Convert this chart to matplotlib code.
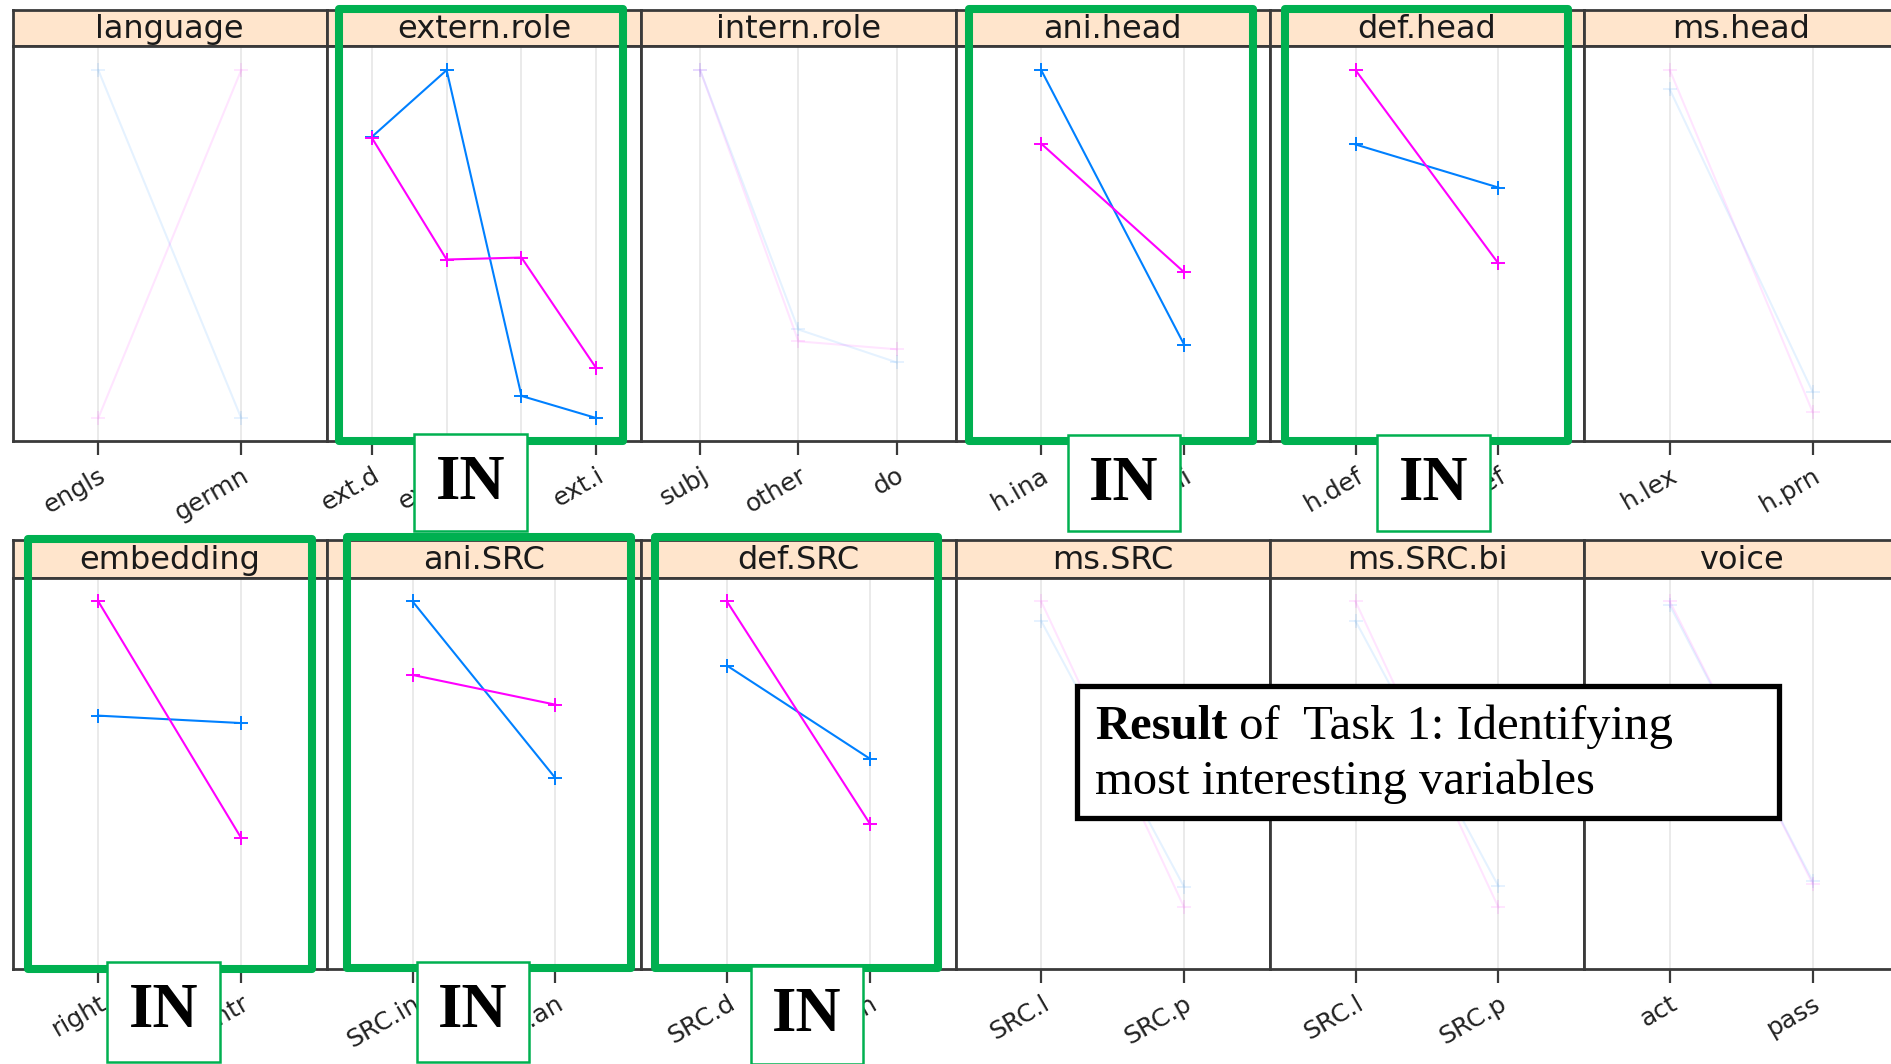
import matplotlib.pyplot as plt
from matplotlib.patches import Rectangle

W, H = 1891, 1064

# panel data (values = relative position in panel, 0 = bottom, 1 = top)
panel_names = ["language", "extern.role", "intern.role", "ani.head", "def.head", "ms.head",
               "embedding", "ani.SRC", "def.SRC", "ms.SRC", "ms.SRC.bi", "voice"]
panel_levels = [["engls", "germn"], ["ext.d", "ext.s", "ext.o", "ext.i"], ["subj", "other", "do"],
                ["h.ina", "h.ani"], ["h.def", "h.indef"], ["h.lex", "h.prn"],
                ["right", "centr"], ["SRC.in", "SRC.an"], ["SRC.d", "SRC.in"],
                ["SRC.l", "SRC.p"], ["SRC.l", "SRC.p"], ["act", "pass"]]
blue_vals = [[0.938, 0.058], [0.769, 0.938, 0.114, 0.058], [0.938, 0.282, 0.199],
             [0.938, 0.244], [0.750, 0.641], [0.889, 0.124],
             [0.648, 0.629], [0.940, 0.488], [0.776, 0.538],
             [0.890, 0.210], [0.890, 0.212], [0.930, 0.225]]
pink_vals = [[0.058, 0.938], [0.767, 0.459, 0.464, 0.184], [0.938, 0.252, 0.232],
             [0.752, 0.427], [0.938, 0.449], [0.938, 0.073],
             [0.940, 0.335], [0.752, 0.676], [0.940, 0.372],
             [0.940, 0.158], [0.940, 0.158], [0.940, 0.218]]
interesting = [False, True, False, True, True, False,
               True, True, True, False, False, False]

BLUE = "#0080ff"
PINK = "#ff00ff"
GREEN = "#00b050"
EDGE = "#3a3a3a"

fig = plt.figure(figsize=(W / 100, H / 100), dpi=100)
fig.patch.set_facecolor("white")


def px_axes(x0, y0, x1, y1):
    return fig.add_axes([x0 / W, 1 - y1 / H, (x1 - x0) / W, (y1 - y0) / H])


col_left = 12.6
col_w = 314.3
strip_top = [9.5, 540]
strip_bot = [45.6, 578]
panel_bot = [441, 969]

for i, name in enumerate(panel_names):
    row, col = divmod(i, 6)
    x0 = col_left + col * col_w
    x1 = x0 + col_w
    levels = panel_levels[i]
    n = len(levels)
    xs = list(range(1, n + 1))

    # strip
    sax = px_axes(x0, strip_top[row], x1, strip_bot[row])
    sax.set_facecolor("#ffe5cc")
    sax.set_xticks([])
    sax.set_yticks([])
    for sp in sax.spines.values():
        sp.set_color(EDGE)
        sp.set_linewidth(2)
    sax.text(0.5, 0.45, name, ha="center", va="center", fontsize=23,
             color="#1a1a1a", transform=sax.transAxes)

    # panel
    ax = px_axes(x0, strip_bot[row], x1, panel_bot[row])
    ax.set_xlim(0.4, n + 0.6)
    ax.set_ylim(0, 1)
    for x in xs:
        ax.axvline(x, color="#e8e8e8", lw=1.3, zorder=0)
    alpha = 1.0 if interesting[i] else 0.1
    ax.plot(xs, blue_vals[i], color=BLUE, lw=1.5, marker="+", ms=10, mew=1.4,
            alpha=alpha)
    ax.plot(xs, pink_vals[i], color=PINK, lw=1.5, marker="+", ms=10, mew=1.4,
            alpha=alpha)
    ax.set_yticks([])
    ax.set_xticks(xs)
    ax.set_xticklabels(levels, rotation=30, ha="right", va="top",
                       rotation_mode="anchor", fontsize=18, color="#222222")
    ax.tick_params(axis="x", direction="out", length=10, width=1.6, color=EDGE, pad=6)
    for sp in ax.spines.values():
        sp.set_color(EDGE)
        sp.set_linewidth(2)

# overlay in pixel coordinates for the annotations
ov = fig.add_axes([0, 0, 1, 1])
ov.set_zorder(10)
ov.set_xlim(0, W)
ov.set_ylim(H, 0)
ov.axis("off")
ov.patch.set_alpha(0)

green_boxes = [(339, 8.7, 623, 441), (969, 8.7, 1253, 441), (1285, 8.7, 1568, 441),
               (28.4, 539, 311.7, 968.6), (347, 537.4, 630.7, 967.5), (655, 537.4, 938, 967.5)]
for bx0, by0, bx1, by1 in green_boxes:
    ov.add_patch(Rectangle((bx0, by0), bx1 - bx0, by1 - by0, fill=False,
                           edgecolor=GREEN, lw=5.8, joinstyle="round"))

in_boxes = [(414, 434, 527, 531), (1068, 435, 1180, 531), (1377, 435, 1490, 531),
            (107, 962, 220, 1062), (417, 962, 529, 1062), (751, 966, 863, 1064)]
for bx0, by0, bx1, by1 in in_boxes:
    ov.add_patch(Rectangle((bx0, by0), bx1 - bx0, by1 - by0, facecolor="white",
                           edgecolor=GREEN, lw=1.8))
    ov.text((bx0 + bx1) / 2, by0 + 50, "IN", ha="center", va="center",
            fontsize=45, fontweight="bold", family="Liberation Serif", color="black")

# result text box
ov.add_patch(Rectangle((1077, 685.5), 702, 132, facecolor="white",
                       edgecolor="black", lw=3.8))
t1 = ov.text(1095, 739, "Result", ha="left", va="baseline", fontsize=35,
             fontweight="bold", family="Liberation Serif", color="black")
fig.canvas.draw()
bb = t1.get_window_extent()
x_after = bb.x1  # display pixels == data pixels here (x axis not inverted)
ov.text(x_after, 739, " of  Task 1: Identifying", ha="left", va="baseline",
        fontsize=35, family="Liberation Serif", color="black")
ov.text(1095, 794, "most interesting variables", ha="left", va="baseline",
        fontsize=35, family="Liberation Serif", color="black")

fig.savefig("out.png", dpi=100)
